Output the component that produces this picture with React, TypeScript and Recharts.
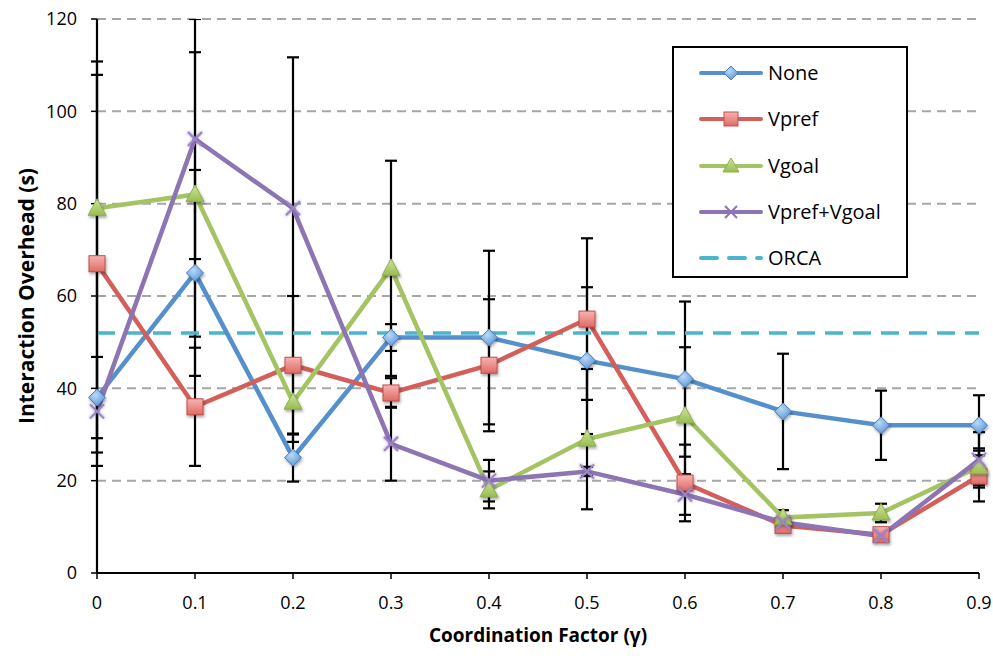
import React from 'react';
import * as R from 'recharts';
import { LineChart, Line, XAxis, YAxis, CartesianGrid, ErrorBar, Legend } from 'recharts';

const categories = ['0', '0.1', '0.2', '0.3', '0.4', '0.5', '0.6', '0.7', '0.8', '0.9'];
const noneVals = [38, 65, 25, 51, 51, 46, 42, 35, 32, 32];
const noneErr = [8.8, 22.3, 5.2, 2.9, 18.8, 15.9, 16.8, 12.5, 7.5, 6.5];
const vprefVals = [67, 36, 45, 39, 45, 55, 19.5, 10.3, 8.3, 21];
const vprefErr = [43.8, 12.8, 15, 3.2, 14.3, 17.5, 8.3, 1.2, 1, 5.5];
const vgoalVals = [79, 82, 37, 66, 18, 29, 34, 12, 13, 23];
const vgoalErr = [52.9, 30.8, 8.6, 23.3, 4, 15.2, 14.9, 1.6, 2, 4];
const vvVals = [35, 94, 79, 28, 20, 22, 17, 11, 8, 24.5];
const vvErr = [72.9, 26, 32.7, 8, 4.5, 1, 4.4, 1, 1, 6];
const orcaVals = [52, 52, 52, 52, 52, 52, 52, 52, 52, 52];
const yTicks = [0, 20, 40, 60, 80, 100, 120];

const data = categories.map((x, i) => ({
  x,
  none: noneVals[i],
  noneErr: noneErr[i],
  vpref: vprefVals[i],
  vprefErr: vprefErr[i],
  vgoal: vgoalVals[i],
  vgoalErr: vgoalErr[i],
  vv: vvVals[i],
  vvErr: vvErr[i],
  orca: orcaVals[i],
}));

const FONT = '"Open Sans", Lato, sans-serif';
const C_NONE = '#5590CC';
const C_VPREF = '#D45F5A';
const C_VGOAL = '#A4C463';
const C_VV = '#8D74B3';
const C_ORCA = '#4BB5D0';
const shadow = { filter: 'drop-shadow(1px 2px 1.5px rgba(0,0,0,0.35))' };

const CHART_W = 993;
const CHART_H = 656;
const MARGIN = { top: 19, right: 14, left: 27, bottom: 8 };
const Y_AXIS_W = 70;
const X_AXIS_H = 75;

const usePA: () => any = (R as any).usePlotArea || (() => null);

const PlotClip = () => {
  const pa = usePA();
  const x = pa ? pa.x : MARGIN.left + Y_AXIS_W;
  const y = pa ? pa.y : MARGIN.top;
  const w = pa ? pa.width : CHART_W - MARGIN.left - MARGIN.right - Y_AXIS_W;
  const h = pa ? pa.height : CHART_H - MARGIN.top - MARGIN.bottom - X_AXIS_H;
  return (
    <defs>
      <clipPath id="plotAreaClip" clipPathUnits="userSpaceOnUse">
        <rect x={x - 10} y={y} width={w + 20} height={h} />
      </clipPath>
      <style>{`.recharts-errorBars { clip-path: url(#plotAreaClip); }`}</style>
    </defs>
  );
};

const diamondPath = (cx: number, cy: number, r: number) =>
  `M${cx},${cy - r} L${cx + r},${cy} L${cx},${cy + r} L${cx - r},${cy} Z`;

const DiamondDot = (p: any) => {
  const { cx, cy, index } = p;
  if (cx == null || cy == null) return <g key={`d${index}`} />;
  return (
    <path key={`d${index}`} d={diamondPath(cx, cy, 8.5)} fill="url(#gBlue)" stroke="#4A80C0" strokeWidth={1} style={shadow} />
  );
};
const SquareDot = (p: any) => {
  const { cx, cy, index } = p;
  if (cx == null || cy == null) return <g key={`s${index}`} />;
  return (
    <rect key={`s${index}`} x={cx - 8} y={cy - 8} width={16} height={16} fill="url(#gRed)" stroke="#C0504D" strokeWidth={1} style={shadow} />
  );
};
const TriDot = (p: any) => {
  const { cx, cy, index } = p;
  if (cx == null || cy == null) return <g key={`t${index}`} />;
  return (
    <path key={`t${index}`} d={`M${cx},${cy - 9.5} L${cx + 9},${cy + 7} L${cx - 9},${cy + 7} Z`} fill="url(#gGreen)" stroke="#8FB04E" strokeWidth={1} style={shadow} />
  );
};
const XDot = (p: any) => {
  const { cx, cy, index } = p;
  if (cx == null || cy == null) return <g key={`x${index}`} />;
  const r = 7;
  return (
    <path key={`x${index}`} d={`M${cx - r},${cy - r} L${cx + r},${cy + r} M${cx - r},${cy + r} L${cx + r},${cy - r}`} stroke="#9C86C2" strokeWidth={2} fill="none" style={{ filter: 'drop-shadow(0px 0px 1.5px rgba(110,80,160,0.7))' }} />
  );
};

const legendItems = [
  { name: 'None', color: C_NONE, marker: 'diamond' },
  { name: 'Vpref', color: C_VPREF, marker: 'square' },
  { name: 'Vgoal', color: C_VGOAL, marker: 'triangle' },
  { name: 'Vpref+Vgoal', color: C_VV, marker: 'x' },
  { name: 'ORCA', color: C_ORCA, marker: 'dash' },
];

const LegendSample = ({ color, marker }: { color: string; marker: string }) => {
  const cx = 32;
  const cy = 10;
  return (
    <svg width={64} height={20} style={{ display: 'block', overflow: 'visible' }}>
      {marker === 'dash' ? (
        <line x1={2} y1={cy} x2={62} y2={cy} stroke={color} strokeWidth={4} strokeDasharray="16 12" strokeLinecap="round" />
      ) : (
        <line x1={2} y1={cy} x2={62} y2={cy} stroke={color} strokeWidth={4} strokeLinecap="round" />
      )}
      {marker === 'diamond' && <path d={diamondPath(cx, cy, 7)} fill="url(#gBlue)" stroke="#4A80C0" strokeWidth={1} />}
      {marker === 'square' && <rect x={cx - 7} y={cy - 7} width={14} height={14} fill="url(#gRed)" stroke="#C0504D" strokeWidth={1} />}
      {marker === 'triangle' && <path d={`M${cx},${cy - 8} L${cx + 8},${cy + 6} L${cx - 8},${cy + 6} Z`} fill="url(#gGreen)" stroke="#8FB04E" strokeWidth={1} />}
      {marker === 'x' && <path d={`M${cx - 6},${cy - 6} L${cx + 6},${cy + 6} M${cx - 6},${cy + 6} L${cx + 6},${cy - 6}`} stroke="#8D74B3" strokeWidth={2} />}
    </svg>
  );
};

const renderLegend = () => (
  <div
    style={{
      width: 236,
      height: 232,
      boxSizing: 'border-box',
      border: '2px solid #000',
      background: '#fff',
      paddingTop: 2,
      fontFamily: FONT,
    }}
  >
    {legendItems.map((it) => (
      <div key={it.name} style={{ display: 'flex', alignItems: 'center', height: 46.3, marginLeft: 25 }}>
        <LegendSample color={it.color} marker={it.marker} />
        <span style={{ fontSize: 20, marginLeft: 5, color: '#000', lineHeight: '24px' }}>{it.name}</span>
      </div>
    ))}
  </div>
);

export default function App() {
  return (
    <div style={{ position: 'absolute', left: 0, top: 0, width: CHART_W, height: CHART_H }}>
      <LineChart width={CHART_W} height={CHART_H} data={data} margin={MARGIN}>
        <defs>
          <radialGradient id="gBlue" cx="40%" cy="35%" r="70%">
            <stop offset="0%" stopColor="#B9DAF8" />
            <stop offset="100%" stopColor="#5A94D4" />
          </radialGradient>
          <linearGradient id="gRed" x1="0" y1="0" x2="0" y2="1">
            <stop offset="0%" stopColor="#F6B4B1" />
            <stop offset="100%" stopColor="#E06A65" />
          </linearGradient>
          <linearGradient id="gGreen" x1="0" y1="0" x2="0" y2="1">
            <stop offset="0%" stopColor="#CFE59B" />
            <stop offset="100%" stopColor="#98BD52" />
          </linearGradient>
        </defs>
        <PlotClip />
        <CartesianGrid vertical={false} stroke="#A6A6A6" strokeWidth={2} strokeDasharray="9 6" />
        <XAxis
          dataKey="x"
          type="category"
          interval={0}
          axisLine={{ stroke: '#000', strokeWidth: 2 }}
          tickLine={{ stroke: '#000', strokeWidth: 1.5 }}
          tickSize={6}
          tickMargin={17}
          height={X_AXIS_H}
          tick={{ fill: '#000', fontSize: 18, fontFamily: FONT }}
          label={{ value: 'Coordination Factor (γ)', position: 'insideBottom', offset: 6, style: { fontFamily: FONT, fontWeight: 700, fontSize: 19, fill: '#000' } }}
        />
        <YAxis
          type="number"
          domain={[0, 120]}
          ticks={yTicks}
          allowDataOverflow
          width={Y_AXIS_W}
          axisLine={{ stroke: '#000', strokeWidth: 2 }}
          tickLine={{ stroke: '#000', strokeWidth: 1.5 }}
          tickSize={6}
          tickMargin={14}
          tick={{ fill: '#000', fontSize: 18, fontFamily: FONT }}
          label={{ value: 'Interaction Overhead (s)', angle: -90, position: 'center', dx: -35, style: { fontFamily: FONT, fontWeight: 700, fontSize: 21, fill: '#000' } }}
        />
        <Legend
          layout="vertical"
          align="center"
          verticalAlign="middle"
          wrapperStyle={{ left: 672, top: 46, width: 236, height: 232 }}
          content={renderLegend}
        />
        <Line dataKey="none" stroke="none" dot={false} activeDot={false} legendType="none" isAnimationActive={false}>
          <ErrorBar dataKey="noneErr" width={6} stroke="#000" strokeWidth={2.2} direction="y" />
        </Line>
        <Line dataKey="vpref" stroke="none" dot={false} activeDot={false} legendType="none" isAnimationActive={false}>
          <ErrorBar dataKey="vprefErr" width={6} stroke="#000" strokeWidth={2.2} direction="y" />
        </Line>
        <Line dataKey="vgoal" stroke="none" dot={false} activeDot={false} legendType="none" isAnimationActive={false}>
          <ErrorBar dataKey="vgoalErr" width={6} stroke="#000" strokeWidth={2.2} direction="y" />
        </Line>
        <Line dataKey="vv" stroke="none" dot={false} activeDot={false} legendType="none" isAnimationActive={false}>
          <ErrorBar dataKey="vvErr" width={6} stroke="#000" strokeWidth={2.2} direction="y" />
        </Line>
        <Line dataKey="orca" name="ORCA" type="linear" stroke={C_ORCA} strokeWidth={3.5} strokeDasharray="18 10" dot={false} activeDot={false} isAnimationActive={false} />
        <Line dataKey="none" name="None" type="linear" stroke={C_NONE} strokeWidth={4.5} dot={DiamondDot} activeDot={false} isAnimationActive={false} />
        <Line dataKey="vpref" name="Vpref" type="linear" stroke={C_VPREF} strokeWidth={4.5} dot={SquareDot} activeDot={false} isAnimationActive={false} />
        <Line dataKey="vgoal" name="Vgoal" type="linear" stroke={C_VGOAL} strokeWidth={4.5} dot={TriDot} activeDot={false} isAnimationActive={false} />
        <Line dataKey="vv" name="Vpref+Vgoal" type="linear" stroke={C_VV} strokeWidth={4.5} dot={XDot} activeDot={false} isAnimationActive={false} />
      </LineChart>
    </div>
  );
}
